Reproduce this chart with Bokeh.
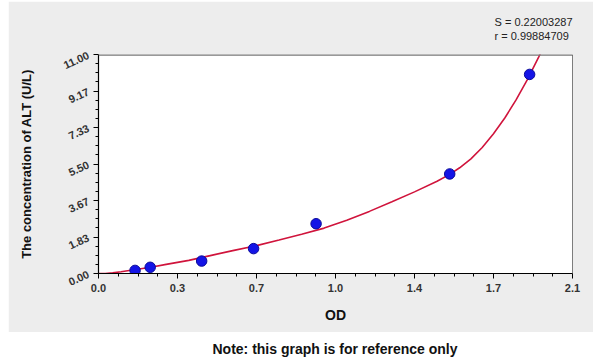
import math
from bokeh.plotting import figure
from bokeh.models import Range1d, FixedTicker, Label, Span, Column, Title
from bokeh.embed import file_html
from bokeh.resources import INLINE

# ---- data ----
od = [0.162, 0.229, 0.457, 0.687, 0.964, 1.556, 1.910]
conc = [0.156, 0.312, 0.625, 1.25, 2.5, 5.0, 10.0]

curve_od = [0.00, 0.03, 0.063, 0.10, 0.165, 0.232, 0.30, 0.40, 0.50, 0.60, 0.70,
            0.80, 0.90, 1.00, 1.10, 1.20, 1.30, 1.40, 1.50, 1.556, 1.60, 1.65,
            1.70, 1.75, 1.80, 1.85, 1.90, 1.95, 1.97]
curve_conc = [0.00, 0.00, 0.03, 0.09, 0.20, 0.31, 0.46, 0.66, 0.91, 1.16, 1.40,
              1.68, 1.97, 2.28, 2.68, 3.12, 3.60, 4.10, 4.63, 4.98, 5.31, 5.76,
              6.33, 7.02, 7.81, 8.72, 9.74, 10.87, 11.35]

x_ticks = [0.0, 0.35, 0.7, 1.05, 1.4, 1.75, 2.1]
x_tick_labels = ["0.0", "0.3", "0.7", "1.0", "1.4", "1.7", "2.1"]
y_ticks = [0.0, 11 / 6, 22 / 6, 5.5, 44 / 6, 55 / 6, 11.0]
y_tick_labels = ["0.00", "1.83", "3.67", "5.50", "7.33", "9.17", "11.00"]

stat_lines = ["S = 0.22003287", "r = 0.99884709"]
note_text = "Note: this graph is for reference only"

FONT = "Liberation Sans"

def minors(ticks, n=4):
    out = []
    for a, b in zip(ticks[:-1], ticks[1:]):
        out += [a + (b - a) * k / n for k in range(1, n)]
    return out

p = figure(width=585, height=331, output_backend="svg", toolbar_location=None,
           x_range=Range1d(0, 2.1), y_range=Range1d(0, 11),
           min_border_left=90, min_border_right=21, min_border_top=51,
           min_border_bottom=59)
p.margin = (1, 7, 0, 8)
p.border_fill_color = "#ededed"
p.background_fill_color = "white"
p.outline_line_color = None
p.grid.visible = False

p.xaxis.ticker = FixedTicker(ticks=x_ticks, minor_ticks=minors(x_ticks))
p.yaxis.ticker = FixedTicker(ticks=y_ticks, minor_ticks=minors(y_ticks))
p.xaxis.major_label_overrides = dict(zip(x_ticks, x_tick_labels))
p.yaxis.major_label_overrides = dict(zip(y_ticks, y_tick_labels))

for ax in (p.xaxis, p.yaxis):
    ax.axis_line_color = "black"
    ax.axis_line_width = 1.2
    ax.major_tick_line_color = "black"
    ax.minor_tick_line_color = "black"
    ax.major_tick_out = 5
    ax.major_tick_in = 0
    ax.minor_tick_out = 3
    ax.minor_tick_in = 0
    ax.major_label_text_font = FONT
    ax.major_label_text_font_style = "bold"
    ax.major_label_text_font_size = "11px"
    ax.major_label_text_color = "#333333"
    ax.axis_label_text_font = FONT
    ax.axis_label_text_font_style = "bold"
    ax.axis_label_text_font_size = "13px"
    ax.axis_label_text_color = "#111111"

p.yaxis.major_label_orientation = 0.43
p.yaxis.major_label_standoff = 5
p.xaxis.major_label_standoff = 5
p.xaxis.axis_label = "OD"
p.xaxis.axis_label_text_font_size = "14px"
p.xaxis.axis_label_standoff = 12
p.yaxis.axis_label = "The concentration of ALT (U/L)"
p.yaxis.axis_label_standoff = 24

p.add_layout(Span(location=11, dimension="width", line_color="#777777", line_width=2.5))
p.add_layout(Span(location=2.1, dimension="height", line_color="black", line_width=1))

p.line(curve_od, curve_conc, line_color="#d0143c", line_width=1.6)
p.scatter(od, conc, size=10.5, fill_color="#1414e6", line_color="#0a0a9a", line_width=1)

# stat lines as one two-line title above the frame, right aligned
p.add_layout(Title(text="\n".join(stat_lines), align="right", text_font=FONT,
                   text_font_size="11px", text_font_style="normal",
                   text_color="#222222", text_line_height=1.15,
                   standoff=25, offset=0), "above")

note = figure(width=600, height=28, output_backend="svg", toolbar_location=None,
              x_range=Range1d(0, 1), y_range=Range1d(0, 1),
              min_border=0, outline_line_color=None)
note.axis.visible = False
note.grid.visible = False
note.border_fill_color = "white"
note.background_fill_color = "white"
note.add_layout(Label(x=0.5, y=0.42, text=note_text, text_align="center",
                      text_baseline="middle", text_font=FONT, text_font_style="bold",
                      text_font_size="14px", text_color="#111111"))

layout = Column(p, note, spacing=0)
open("out.html", "w").write(file_html(layout, INLINE))
